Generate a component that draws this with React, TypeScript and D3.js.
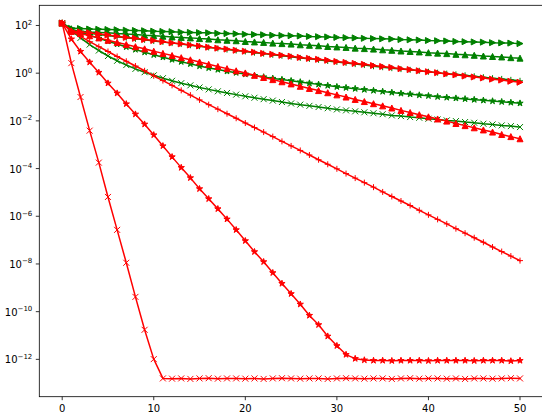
import React from 'react';
import * as d3 from 'd3';

// iteration index (x categories)
const iterations = d3.range(0, 51);

// series values, stored as log10 of the plotted value
const greenRightLog = [2.10, 1.88,1.87,1.85,1.84,1.83,1.82,1.80,1.79,1.78,1.76, 1.75,1.74,1.72,1.71,1.70,1.69,1.67,1.66,1.65,1.63, 1.62,1.61,1.59,1.58,1.57,1.56,1.54,1.53,1.52,1.50, 1.49,1.48,1.46,1.45,1.44,1.43,1.41,1.40,1.39,1.37, 1.36,1.35,1.33,1.32,1.31,1.30,1.28,1.27,1.26,1.24];
const greenUpLog = [2.10, 1.78,1.76,1.73,1.71,1.69,1.66,1.64,1.62,1.59,1.57, 1.55,1.52,1.50,1.48,1.45,1.43,1.40,1.38,1.36,1.33, 1.31,1.29,1.26,1.24,1.22,1.19,1.17,1.15,1.12,1.10, 1.08,1.05,1.03,1.01,0.98,0.96,0.93,0.91,0.89,0.86, 0.84,0.82,0.79,0.77,0.75,0.72,0.70,0.68,0.65,0.63];
const greenPlusLog = [2.10, 1.76,1.72,1.67,1.62,1.58,1.53,1.49,1.44,1.40,1.35, 1.31,1.26,1.22,1.17,1.13,1.08,1.04,0.99,0.95,0.91, 0.86,0.82,0.77,0.73,0.69,0.64,0.60,0.56,0.51,0.47, 0.43,0.38,0.34,0.29,0.25,0.21,0.17,0.14,0.10,0.06, 0.02,-0.02,-0.05,-0.09,-0.13,-0.17,-0.21,-0.24,-0.28,-0.32];
const greenStarLog = [2.10, 1.85,1.72,1.59,1.46,1.34,1.22,1.10,0.99,0.88,0.77, 0.67,0.57,0.48,0.39,0.30,0.22,0.15,0.08,0.02,-0.04, -0.10,-0.16,-0.22,-0.27,-0.32,-0.37,-0.42,-0.47,-0.52,-0.57, -0.61,-0.65,-0.69,-0.73,-0.77,-0.81,-0.85,-0.88,-0.92,-0.95, -0.99,-1.02,-1.05,-1.08,-1.11,-1.14,-1.17,-1.20,-1.23,-1.26];
const greenXLog = [2.10, 1.78,1.48,1.20,0.95,0.72,0.52,0.34,0.18,0.04,-0.09, -0.21,-0.32,-0.42,-0.51,-0.60,-0.68,-0.76,-0.83,-0.90,-0.97, -1.03,-1.09,-1.15,-1.21,-1.27,-1.32,-1.37,-1.42,-1.47,-1.52, -1.56,-1.60,-1.64,-1.68,-1.72,-1.77,-1.80,-1.84,-1.87,-1.91, -1.94,-1.98,-2.01,-2.05,-2.08,-2.12,-2.15,-2.19,-2.22,-2.26];

const redRightLog = [2.10, 1.78,1.73,1.69,1.64,1.60,1.55,1.50,1.46,1.41,1.37, 1.32,1.27,1.23,1.18,1.14,1.09,1.05,1.01,0.96,0.92, 0.88,0.83,0.79,0.75,0.71,0.66,0.62,0.58,0.54,0.49, 0.45,0.41,0.37,0.32,0.28,0.24,0.19,0.15,0.10,0.06, 0.02,-0.03,-0.07,-0.12,-0.16,-0.20,-0.25,-0.29,-0.34,-0.38];
const redUpLog = [2.10, 1.75,1.66,1.57,1.48,1.38,1.29,1.20,1.11,1.02,0.92, 0.83,0.74,0.65,0.56,0.47,0.37,0.28,0.19,0.10,0.01, -0.09,-0.18,-0.27,-0.36,-0.45,-0.55,-0.64,-0.73,-0.82,-0.91, -1.00,-1.10,-1.19,-1.28,-1.37,-1.46,-1.56,-1.65,-1.74,-1.83, -1.92,-2.01,-2.11,-2.20,-2.29,-2.38,-2.47,-2.57,-2.66,-2.75];
const redPlusLog = [2.10, 1.78,1.54,1.32,1.11,0.91,0.70,0.50,0.30,0.10,-0.11, -0.31,-0.51,-0.72,-0.92,-1.12,-1.32,-1.51,-1.70,-1.89,-2.09, -2.28,-2.47,-2.66,-2.86,-3.05,-3.24,-3.43,-3.63,-3.82,-4.01, -4.21,-4.40,-4.59,-4.78,-4.98,-5.17,-5.36,-5.55,-5.75,-5.94, -6.13,-6.32,-6.52,-6.71,-6.90,-7.09,-7.29,-7.48,-7.67,-7.86];
const redStarLog = [2.10, 1.43,0.91,0.46,0.03,-0.42,-0.84,-1.29,-1.72,-2.14,-2.59, -3.05,-3.51,-3.96,-4.39,-4.85,-5.27,-5.69,-6.12,-6.57,-7.03, -7.49,-7.91,-8.37,-8.82,-9.25,-9.69,-10.16,-10.55,-11.03,-11.43, -11.80,-11.97,-12.03,-12.05,-12.05,-12.06,-12.05,-12.05,-12.05,-12.06, -12.05,-12.05,-12.05,-12.05,-12.06,-12.05,-12.05,-12.05,-12.07,-12.05];
const redXLog = [2.10, 0.42,-1.00,-2.41,-3.75,-5.19,-6.57,-7.95,-9.38,-10.76,-11.99, -12.80,-12.81,-12.80,-12.82,-12.80,-12.79,-12.81,-12.80,-12.80,-12.81, -12.80,-12.82,-12.80,-12.79,-12.80,-12.81,-12.80,-12.80,-12.82,-12.80, -12.79,-12.80,-12.81,-12.80,-12.80,-12.82,-12.80,-12.79,-12.81,-12.80, -12.80,-12.81,-12.80,-12.82,-12.80,-12.80,-12.81,-12.80,-12.79,-12.80];

const xTicks = [0, 10, 20, 30, 40, 50];
const yTickExponents = [2, 0, -2, -4, -6, -8, -10, -12];

type Mk = '>' | '^' | '+' | '*' | 'x';
const seriesList: { logs: number[]; color: string; marker: Mk }[] = [
  { logs: greenRightLog, color: '#008000', marker: '>' },
  { logs: greenUpLog, color: '#008000', marker: '^' },
  { logs: greenPlusLog, color: '#008000', marker: '+' },
  { logs: greenStarLog, color: '#008000', marker: '*' },
  { logs: greenXLog, color: '#008000', marker: 'x' },
  { logs: redRightLog, color: '#ff0000', marker: '>' },
  { logs: redUpLog, color: '#ff0000', marker: '^' },
  { logs: redPlusLog, color: '#ff0000', marker: '+' },
  { logs: redStarLog, color: '#ff0000', marker: '*' },
  { logs: redXLog, color: '#ff0000', marker: 'x' },
];

const W = 542, H = 413;
const left = 39.3, right = 542.9, top = 5.3, bottom = 396.7;

function starPoints(cx: number, cy: number, r: number) {
  const ri = r * 0.381966;
  const pts: string[] = [];
  for (let k = 0; k < 10; k++) {
    const a = -Math.PI / 2 + (k * Math.PI) / 5;
    const rr = k % 2 === 0 ? r : ri;
    pts.push(`${cx + rr * Math.cos(a)},${cy + rr * Math.sin(a)}`);
  }
  return pts.join(' ');
}

function Marker({ m, cx, cy, color }: { m: Mk; cx: number; cy: number; color: string }) {
  const s = 3;
  if (m === '>') return <polygon points={`${cx + s},${cy} ${cx - s},${cy - s} ${cx - s},${cy + s}`} fill={color} stroke={color} strokeWidth={1} />;
  if (m === '^') return <polygon points={`${cx},${cy - s} ${cx - s},${cy + s} ${cx + s},${cy + s}`} fill={color} stroke={color} strokeWidth={1} />;
  if (m === '*') return <polygon points={starPoints(cx, cy, s + 0.3)} fill={color} stroke={color} strokeWidth={1} strokeLinejoin="miter" />;
  if (m === '+') return <path d={`M${cx - s},${cy}h${2 * s}M${cx},${cy - s}v${2 * s}`} stroke={color} strokeWidth={1} fill="none" />;
  return <path d={`M${cx - s},${cy - s}l${2 * s},${2 * s}M${cx - s},${cy + s}l${2 * s},${-2 * s}`} stroke={color} strokeWidth={1} fill="none" />;
}

export default function App() {
  const allLogs = seriesList.flatMap((s) => s.logs);
  const lo = d3.min(allLogs) as number;
  const hi = d3.max(allLogs) as number;
  const pad = 0.05 * (hi - lo);
  const x = d3.scaleLinear().domain([-2.5, 52.5]).range([left, right]);
  const y = d3.scaleLog().domain([Math.pow(10, lo - pad), Math.pow(10, hi + pad)]).range([bottom, top]);
  const line = d3.line<[number, number]>().x((d) => x(d[0])).y((d) => y(d[1]));
  const font = 'DejaVu Sans, sans-serif';

  return (
    <svg width={W} height={H} style={{ position: 'absolute', left: 0, top: 0, background: '#fff' }} fontFamily={font}>
      <rect x={0} y={0} width={W} height={H} fill="#fff" />
      {seriesList.map((s, si) => {
        const pts: [number, number][] = iterations.map((i) => [i, Math.pow(10, s.logs[i])]);
        return (
          <g key={si}>
            <path d={line(pts) || ''} fill="none" stroke={s.color} strokeWidth={1.5} strokeLinejoin="round" strokeLinecap="square" />
            {pts.map((p, k) => (
              <Marker key={k} m={s.marker} cx={x(p[0])} cy={y(p[1])} color={s.color} />
            ))}
          </g>
        );
      })}
      {/* spines */}
      <rect x={left} y={top} width={right - left} height={bottom - top} fill="none" stroke="#000" strokeWidth={0.8} />
      {/* x ticks */}
      {xTicks.map((t) => (
        <g key={t}>
          <line x1={x(t)} x2={x(t)} y1={bottom} y2={bottom + 3.5} stroke="#000" strokeWidth={0.8} />
          <text x={x(t)} y={bottom + 15} fontSize={10} textAnchor="middle" fill="#000">{t}</text>
        </g>
      ))}
      {/* y ticks */}
      {yTickExponents.map((e) => {
        const yy = y(Math.pow(10, e));
        const lab = e < 0 ? `\u2212${-e}` : `${e}`;
        return (
          <g key={e}>
            <line x1={left - 3.5} x2={left} y1={yy} y2={yy} stroke="#000" strokeWidth={0.8} />
            <text x={left - 7} y={yy + 4} fontSize={10} textAnchor="end" fill="#000">
              <tspan>10</tspan>
              <tspan dy={-4.5} fontSize={7}>{lab}</tspan>
            </text>
          </g>
        );
      })}
    </svg>
  );
}
